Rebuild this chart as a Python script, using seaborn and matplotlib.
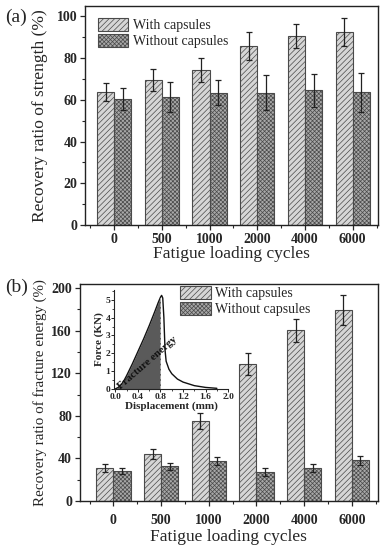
import numpy as np
import pandas as pd
import seaborn as sns
import matplotlib.pyplot as plt
from matplotlib.patches import Patch
from matplotlib.ticker import MultipleLocator, FixedLocator

# --------------------
# Data
# --------------------
CYCLES = ["0", "500", "1000", "2000", "4000", "6000"]
GROUPS = ["With capsules", "Without capsules"]

# (a) recovery ratio of strength (%)
STRENGTH_WITH = [63.7, 69.4, 74.4, 85.9, 90.6, 92.6]
STRENGTH_WITH_ERR = [4.2, 5.2, 5.8, 6.7, 5.6, 6.9]
STRENGTH_WITHOUT = [60.3, 61.4, 63.5, 63.5, 64.5, 63.7]
STRENGTH_WITHOUT_ERR = [5.3, 7.0, 5.8, 8.2, 8.1, 9.4]

# (b) recovery ratio of fracture energy (%)
ENERGY_WITH = [31.0, 44.2, 75.2, 128.5, 160.3, 179.6]
ENERGY_WITH_ERR = [3.7, 4.7, 7.5, 10.6, 10.9, 14.0]
ENERGY_WITHOUT = [28.6, 32.6, 37.9, 27.4, 31.0, 38.1]
ENERGY_WITHOUT_ERR = [2.8, 3.1, 3.7, 3.6, 3.4, 3.9]

# inset: force-displacement curve
DISPLACEMENT = [0.0, 0.05, 0.10, 0.15, 0.20, 0.30, 0.40, 0.50, 0.60, 0.70, 0.76, 0.80,
                0.82, 0.84, 0.86, 0.88, 0.90, 0.95, 1.00, 1.10, 1.20, 1.40, 1.60, 1.80]
FORCE = [0.0, 0.08, 0.22, 0.45, 0.75, 1.40, 2.10, 2.80, 3.55, 4.35, 4.85, 5.15,
         5.25, 5.10, 4.00, 2.20, 1.55, 1.10, 0.85, 0.55, 0.38, 0.18, 0.08, 0.03]
FRACTURE_END = 0.8

# --------------------
# Styles
# --------------------
FACE = {"With capsules": "#d6d6d6", "Without capsules": "#a8a8a8"}
HATCH = {"With capsules": "//////", "Without capsules": "xxxxxxxx"}
EDGE = "#4a4a4a"

sns.set_style("ticks")
plt.rcParams["font.family"] = ["Liberation Serif", "DejaVu Serif"]
plt.rcParams["hatch.linewidth"] = 0.5
plt.rcParams["xtick.direction"] = "out"
plt.rcParams["ytick.direction"] = "out"


def bar_panel(ax, with_vals, with_err, without_vals, without_err, ylim, major, xlim):
    df = pd.DataFrame({
        "cycles": CYCLES * 2,
        "group": [GROUPS[0]] * len(CYCLES) + [GROUPS[1]] * len(CYCLES),
        "value": list(with_vals) + list(without_vals),
    })
    errs = [with_err, without_err]
    sns.barplot(data=df, x="cycles", y="value", hue="group", hue_order=GROUPS,
                palette=[FACE[g] for g in GROUPS], width=0.72, gap=0,
                errorbar=None, edgecolor=EDGE, linewidth=0.8, legend=False, ax=ax)
    for g, container, err in zip(GROUPS, ax.containers, errs):
        xs = []
        for bar in container:
            bar.set_hatch(HATCH[g])
            bar.set_edgecolor(EDGE)
            xs.append(bar.get_x() + bar.get_width() / 2)
        vals = [b.get_height() for b in container]
        ax.errorbar(xs, vals, yerr=err, fmt="none", ecolor="#222222",
                    elinewidth=0.9, capsize=2.2, capthick=0.9, zorder=5)

    ax.set_ylim(*ylim)
    ax.set_xlim(*xlim)
    ax.yaxis.set_major_locator(MultipleLocator(major))
    ax.yaxis.set_minor_locator(MultipleLocator(major / 2))
    ax.xaxis.set_minor_locator(FixedLocator(np.arange(-0.5, len(CYCLES), 1.0)))
    ax.tick_params(which="major", length=3.5, width=0.9, labelsize=10, pad=2)
    ax.tick_params(which="minor", length=2, width=0.8)
    for lab in ax.get_xticklabels() + ax.get_yticklabels():
        lab.set_fontweight("bold")
    for s in ax.spines.values():
        s.set_visible(True)
        s.set_linewidth(1.0)
        s.set_color("#222222")
    ax.set_xlabel("Fatigue loading cycles", fontsize=12.5)


def legend_handles():
    return [Patch(facecolor=FACE[g], edgecolor=EDGE, hatch=HATCH[g], linewidth=0.8, label=g)
            for g in GROUPS]


def main():
    fig = plt.figure(figsize=(3.9, 5.5), dpi=100)

    # (a) strength
    ax_a = fig.add_axes([0.218, 0.591, 0.750, 0.398])
    bar_panel(ax_a, STRENGTH_WITH, STRENGTH_WITH_ERR, STRENGTH_WITHOUT, STRENGTH_WITHOUT_ERR,
              ylim=(0, 105), major=20, xlim=(-0.61, 5.52))
    ax_a.set_ylabel("Recovery ratio of strength (%)", fontsize=12.5)
    ax_a.yaxis.set_label_coords(-0.125, 0.5)
    ax_a.xaxis.set_label_coords(0.5, -0.098)
    ax_a.legend(handles=legend_handles(), loc="upper left", bbox_to_anchor=(0.044, 0.945),
                frameon=False, fontsize=10, handlelength=2.2, handleheight=1.05,
                labelspacing=0.12, handletextpad=0.35, borderpad=0, borderaxespad=0)

    # (b) fracture energy
    ax_b = fig.add_axes([0.204, 0.089, 0.764, 0.395])
    bar_panel(ax_b, ENERGY_WITH, ENERGY_WITH_ERR, ENERGY_WITHOUT, ENERGY_WITHOUT_ERR,
              ylim=(0, 204), major=40, xlim=(-0.71, 5.54))
    ax_b.set_ylabel("Recovery ratio of fracture energy (%)", fontsize=10.8)
    ax_b.yaxis.set_label_coords(-0.108, 0.5)
    ax_b.xaxis.set_label_coords(0.5, -0.128)
    ax_b.tick_params(axis="x", which="major", pad=6)
    ax_b.legend(handles=legend_handles(), loc="upper left", bbox_to_anchor=(0.337, 0.99),
                frameon=False, fontsize=10, handlelength=2.2, handleheight=1.05,
                labelspacing=0.12, handletextpad=0.35, borderpad=0, borderaxespad=0)

    # inset force-displacement curve
    ax_in = fig.add_axes([0.293, 0.293, 0.292, 0.180])
    disp = np.array(DISPLACEMENT)
    force = np.array(FORCE)
    sns.lineplot(x=disp, y=force, color="#111111", linewidth=1.0, ax=ax_in)
    ax_in.fill_between(disp, 0, force, where=disp <= FRACTURE_END, color="#5a5a5a", lw=0)
    ax_in.vlines(FRACTURE_END, 0, force[disp == FRACTURE_END][0], colors="#aaaaaa",
                 linestyles="--", linewidth=0.7)
    ax_in.text(0.57, 1.45, "Fracture energy", rotation=41, fontsize=7.8, fontweight="bold",
               ha="center", va="center", color="#111111")
    ax_in.set_xlim(-0.02, 2.0)
    ax_in.set_ylim(0, 5.56)
    ax_in.xaxis.set_major_locator(MultipleLocator(0.4))
    ax_in.xaxis.set_minor_locator(MultipleLocator(0.2))
    ax_in.yaxis.set_major_locator(MultipleLocator(1))
    ax_in.yaxis.set_minor_locator(MultipleLocator(0.5))
    ax_in.tick_params(which="major", length=2, width=0.7, labelsize=6.8, pad=1)
    ax_in.tick_params(which="minor", length=1.2, width=0.6)
    ax_in.xaxis.set_major_formatter(plt.FuncFormatter(lambda v, p: f"{v:.1f}"))
    for lab in ax_in.get_xticklabels() + ax_in.get_yticklabels():
        lab.set_fontweight("bold")
    ax_in.set_facecolor("none")
    sns.despine(ax=ax_in)
    for s in ("left", "bottom"):
        ax_in.spines[s].set_linewidth(0.8)
        ax_in.spines[s].set_color("#222222")
    ax_in.set_xlabel("Displacement (mm)", fontsize=8, fontweight="bold", labelpad=0)
    ax_in.set_ylabel("Force (KN)", fontsize=8, fontweight="bold", labelpad=1)

    # panel letters
    fig.text(0.012, 0.968, "(a)", fontsize=14, va="center")
    fig.text(0.012, 0.478, "(b)", fontsize=14, va="center")

    fig.savefig("out.png", dpi=100)
    plt.close(fig)


if __name__ == "__main__":
    main()
